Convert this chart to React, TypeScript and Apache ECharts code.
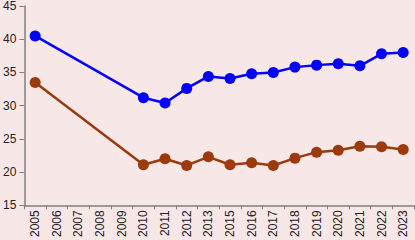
import React, { useEffect, useRef } from "react";
import * as echarts from "echarts";

const years = ["2005","2006","2007","2008","2009","2010","2011","2012","2013","2015","2016","2017","2018","2019","2020","2021","2022","2023"];
const blueSeries: (number | null)[] = [40.5, null, null, null, null, 31.2, 30.4, 32.6, 34.4, 34.1, 34.8, 35.0, 35.8, 36.1, 36.3, 36.0, 37.8, 38.0];
const brownSeries: (number | null)[] = [33.5, null, null, null, null, 21.1, 22.0, 21.0, 22.3, 21.1, 21.4, 21.0, 22.1, 23.0, 23.3, 23.9, 23.8, 23.4];
const yTicks = { min: 15, max: 45, interval: 5 };

export default function App() {
  const ref = useRef<HTMLDivElement>(null);
  useEffect(() => {
    const chart = echarts.init(ref.current!, null, { renderer: "svg" });
    chart.setOption({
      animation: false,
      backgroundColor: "#f7e7e7",
      grid: { left: 24, right: 1, top: 5, bottom: 33, containLabel: false },
      xAxis: {
        type: "category",
        data: years,
        boundaryGap: true,
        axisLine: { lineStyle: { color: "#808080", width: 1.5 } },
        axisTick: { show: true, length: 4, lineStyle: { color: "#808080" } },
        axisLabel: { rotate: 90, fontSize: 12, color: "#222", fontFamily: "Liberation Sans", margin: 5, interval: 0 },
      },
      yAxis: {
        type: "value",
        min: yTicks.min,
        max: yTicks.max,
        interval: yTicks.interval,
        splitLine: { show: false },
        axisLine: { show: true, lineStyle: { color: "#808080", width: 1.5 } },
        axisTick: { show: true, length: 5, lineStyle: { color: "#808080" } },
        axisLabel: { fontSize: 12, color: "#222", fontFamily: "Liberation Sans", margin: 8 },
      },
      series: [
        {
          type: "line",
          data: blueSeries,
          connectNulls: true,
          symbol: "circle",
          symbolSize: 11,
          lineStyle: { color: "#0000ff", width: 2.5 },
          itemStyle: { color: "#0000ff" },
        },
        {
          type: "line",
          data: brownSeries,
          connectNulls: true,
          symbol: "circle",
          symbolSize: 11,
          lineStyle: { color: "#9c3a0c", width: 2.5 },
          itemStyle: { color: "#9c3a0c" },
        },
      ],
    });
    return () => chart.dispose();
  }, []);
  return <div ref={ref} style={{ position: "fixed", left: 0, top: 0, width: 415, height: 240 }} />;
}
